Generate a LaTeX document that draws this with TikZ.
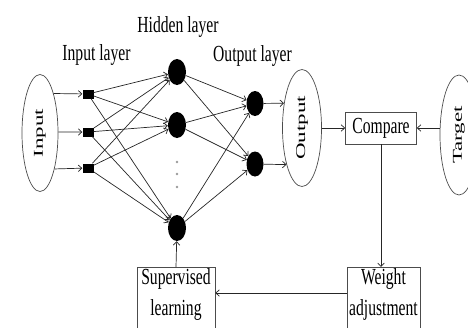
\documentclass[tikz,border=0pt]{standalone}
\usepackage{fontspec}
\setmainfont{Liberation Serif}
\newfontfamily\hfont[FakeStretch=0.68]{Liberation Serif}
\newfontfamily\rfont[FakeStretch=1.7]{Liberation Serif}
\usetikzlibrary{arrows.meta,shapes.geometric}
\begin{document}
\begin{tikzpicture}[x=1pt,y=-1pt,
 ln/.style={draw=black!85, line width=0.7pt},
 arr/.style={ln, -{Straight Barb[length=3.5pt,width=6.5pt]}},
 sq/.style={fill=black, minimum width=11pt, minimum height=9pt, inner sep=0pt},
 hn/.style={ellipse, fill=black, minimum width=18pt, minimum height=26pt, inner sep=0pt},
 onode/.style={ellipse, fill=black, minimum width=17pt, minimum height=25pt, inner sep=0pt},
 oval/.style={ellipse, draw=black!70, line width=0.7pt, inner sep=0pt, font=\rfont\fontsize{13.5}{16}\selectfont},
 box/.style={draw=black!70, line width=0.7pt, inner sep=1pt, align=center, font=\hfont\fontsize{23}{31}\selectfont},
 tallbox/.style={box, anchor=north, text depth=50pt},
 lbl/.style={font=\hfont\fontsize{23}{28}\selectfont, anchor=base, inner sep=0pt}]
\useasboundingbox (0,0) rectangle (468,327);

\node[oval, minimum width=36pt, minimum height=117pt] (in) at (40,133) {\rotatebox{90}{Input}};
\node[sq] (s1) at (88,94) {};
\node[sq] (s2) at (88,132) {};
\node[sq] (s3) at (88,168) {};
\node[hn] (h1) at (177,72) {};
\node[hn] (h2) at (177,125) {};
\node[hn] (h3) at (177,228) {};
\node[onode] (o1) at (255,103.5) {};
\node[onode] (o2) at (255,164) {};
\node[oval, minimum width=39pt, minimum height=117pt] (out) at (302,128) {\rotatebox{90}{Output}};
\node[box, minimum width=71pt, minimum height=32pt] (cmp) at (381,128) {Compare};
\node[oval, minimum width=38pt, minimum height=120pt] (tg) at (459,135) {\rotatebox{90}{Target}};
\node[tallbox, minimum width=78pt] (sup) at (176,267) {Supervised\\learning};
\node[tallbox, minimum width=73pt] (wt) at (383.5,267) {Weight\\adjustment};

\node[lbl] (lh) at (178,32) {Hidden layer};
\node[lbl] (li) at (96.5,60) {Input layer};
\node[lbl] (lo) at (252.5,61) {Output layer};

\draw[arr] (in.71) -- (s1);
\draw[arr] (in.3) -- (s2);
\draw[arr] (in.-68) -- (s3);

\foreach \i in {s1,s2,s3} \foreach \j in {h1,h2,h3} \draw[arr] (\i) -- (\j);
\foreach \i in {h1,h2,h3} \foreach \j in {o1,o2} \draw[arr] (\i) -- (\j);

\foreach \y in {162,174,187} \fill[black!40] (177,\y) circle (1.3pt);

\draw[arr] (o1) -- (out.126);
\draw[arr] (o2) -- (out.-113);
\draw[arr] (out.east) -- (cmp.west);
\draw[arr] (tg.west |- cmp.east) -- (cmp.east);
\draw[arr] (cmp.south) -- (cmp.south |- wt.north);
\draw[arr] ([yshift=-26pt]wt.north west) -- ([yshift=-26pt]sup.north east);
\draw[arr] (sup.north) -- (h3);
\end{tikzpicture}
\end{document}
